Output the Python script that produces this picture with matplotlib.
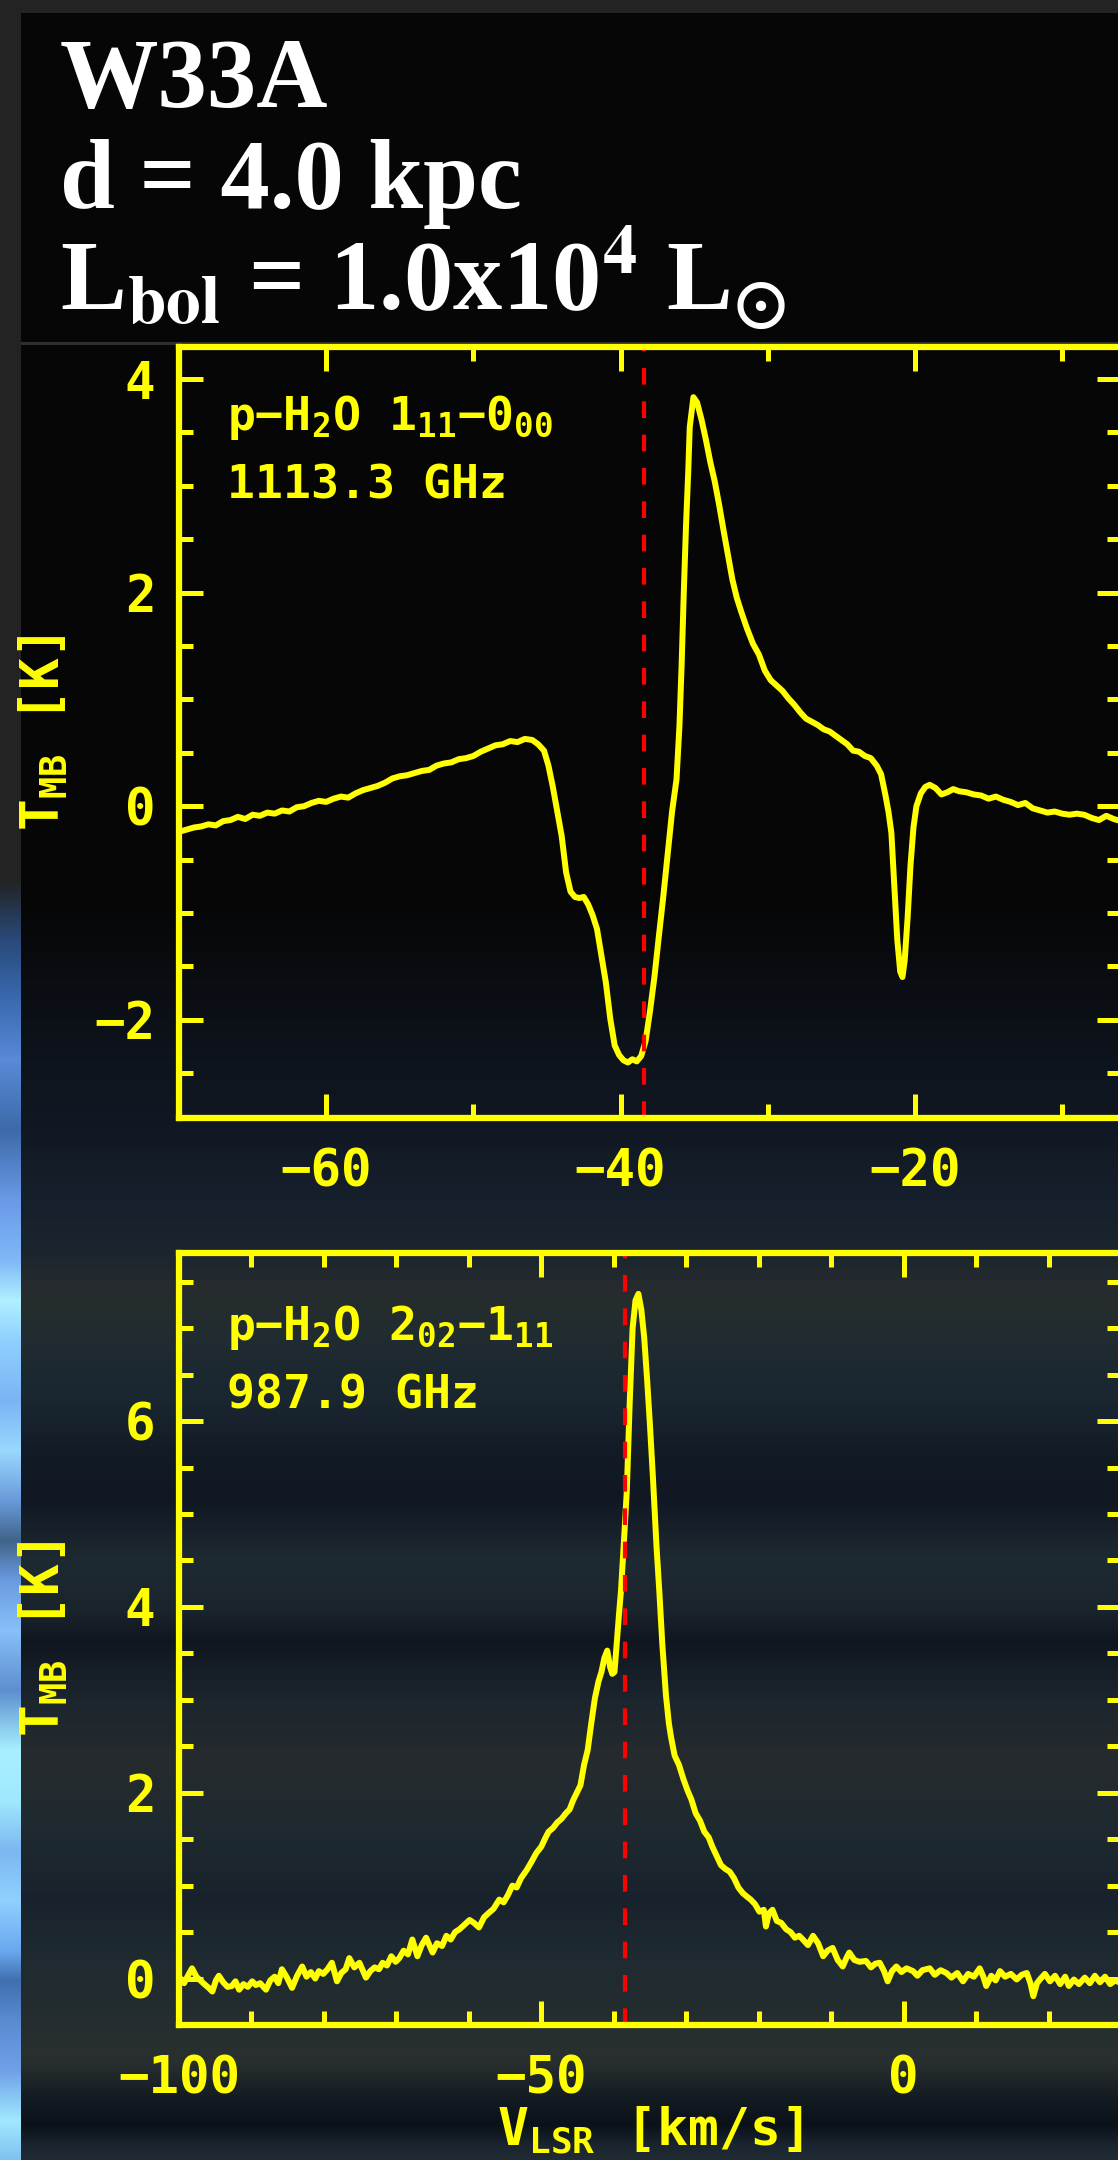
import numpy as np
import matplotlib
matplotlib.use("Agg")
import matplotlib.pyplot as plt
from matplotlib.ticker import MultipleLocator

# ---------------- data ----------------
source_name = "W33A"
distance_text = "d = 4.0 kpc"
lum_text = r"L$_{\mathbf{bol}}$ = 1.0x10$^{4}$ L$_{\odot}$"
vlsr_source = -38.4

top_line = "p\u2212H$_2$O 1$_{11}$\u22120$_{00}$"
top_freq = "1113.3 GHz"
bot_line = "p\u2212H$_2$O 2$_{02}$\u22121$_{11}$"
bot_freq = "987.9 GHz"

v_top = [-70.0, -69.5, -69.0, -68.5, -68.0, -67.5, -67.0, -66.5, -66.0, -65.5,
         -65.0, -64.5, -64.0, -63.5, -63.0, -62.5, -62.0, -61.5, -61.0, -60.5,
         -60.0, -59.5, -59.0, -58.5, -58.0, -57.5, -57.0, -56.5, -56.0, -55.5,
         -55.0, -54.5, -54.0, -53.5, -53.0, -52.5, -52.0, -51.5, -51.0, -50.5,
         -50.0, -49.5, -49.0, -48.5, -48.0, -47.5, -47.0, -46.5, -46.0, -45.6,
         -45.2, -44.9, -44.6, -44.3, -44.0, -43.7, -43.4, -43.1, -42.8, -42.5,
         -42.2, -41.9, -41.6, -41.3, -41.0, -40.7, -40.4, -40.1, -39.8, -39.5,
         -39.2, -38.9, -38.6, -38.3, -38.0, -37.7, -37.4, -37.1, -36.8, -36.5,
         -36.2, -36.0, -35.85, -35.7, -35.55, -35.4, -35.3, -35.05, -34.8, -34.5,
         -34.2, -33.9, -33.6, -33.3, -33.0, -32.7, -32.4, -32.1, -31.8, -31.4,
         -31.0, -30.6, -30.2, -29.8, -29.4, -29.0, -28.6, -28.2, -27.8, -27.4,
         -27.0, -26.6, -26.2, -25.8, -25.4, -25.0, -24.6, -24.2, -23.8, -23.4,
         -23.0, -22.6, -22.3, -22.0, -21.8, -21.6, -21.4, -21.2, -21.0, -20.85,
         -20.7, -20.5, -20.3, -20.1, -19.9, -19.6, -19.3, -19.0, -18.6, -18.2,
         -17.8, -17.4, -17.0, -16.5, -16.0, -15.5, -15.0, -14.5, -14.0, -13.5,
         -13.0, -12.5, -12.0, -11.5, -11.0, -10.5, -10.0, -9.5, -9.0, -8.5,
         -8.0, -7.5, -7.0, -6.5, -6.0]
t_top = [-0.24, -0.22, -0.20, -0.19, -0.17, -0.18, -0.14, -0.13, -0.10, -0.12,
         -0.08, -0.09, -0.06, -0.07, -0.04, -0.05, -0.01, 0.00, 0.03, 0.05,
         0.04, 0.07, 0.09, 0.08, 0.12, 0.15, 0.17, 0.19, 0.22, 0.26,
         0.28, 0.29, 0.31, 0.33, 0.34, 0.38, 0.40, 0.41, 0.44, 0.45,
         0.47, 0.51, 0.54, 0.57, 0.58, 0.61, 0.60, 0.63, 0.62, 0.58,
         0.52, 0.38, 0.18, -0.05, -0.28, -0.62, -0.80, -0.85, -0.86, -0.85,
         -0.92, -1.02, -1.15, -1.40, -1.65, -1.99, -2.24, -2.33, -2.38, -2.40,
         -2.37, -2.39, -2.34, -2.20, -1.92, -1.60, -1.22, -0.85, -0.45, -0.05,
         0.25, 0.75, 1.33, 2.02, 2.64, 3.14, 3.55, 3.83, 3.78, 3.62,
         3.43, 3.22, 3.04, 2.82, 2.58, 2.35, 2.12, 1.95, 1.82, 1.66,
         1.52, 1.42, 1.27, 1.18, 1.13, 1.08, 1.01, 0.95, 0.88, 0.82,
         0.79, 0.76, 0.72, 0.70, 0.66, 0.62, 0.58, 0.52, 0.51, 0.47,
         0.45, 0.38, 0.30, 0.10, -0.05, -0.25, -0.75, -1.25, -1.55, -1.60,
         -1.45, -1.05, -0.55, -0.20, 0.00, 0.12, 0.18, 0.20, 0.17, 0.11,
         0.13, 0.16, 0.14, 0.13, 0.11, 0.10, 0.07, 0.09, 0.06, 0.04,
         0.01, 0.03, -0.02, -0.04, -0.06, -0.05, -0.07, -0.08, -0.07, -0.08,
         -0.11, -0.13, -0.09, -0.12, -0.14]

v_bot = [-100.0, -99.3, -98.7, -98.2, -97.6, -97.2, -96.5, -95.9, -95.4, -94.9,
         -94.5, -93.9, -93.3, -92.7, -92.2, -91.7, -91.1, -90.5, -89.9, -89.4,
         -88.8, -88.0, -87.4, -86.8, -86.3, -85.8, -85.1, -84.4, -83.7, -83.0,
         -82.4, -81.8, -81.2, -80.7, -80.1, -79.5, -78.9, -78.2, -77.6, -77.0,
         -76.5, -75.8, -75.1, -74.6, -74.2, -73.6, -73.0, -72.4, -71.9, -71.3,
         -70.7, -70.1, -69.6, -69.0, -68.4, -67.8, -67.1, -66.5, -65.9, -65.0,
         -64.4, -63.7, -63.1, -62.5, -61.9, -61.3, -60.6, -59.9, -59.3, -58.6,
         -57.9, -57.2, -56.6, -55.8, -55.2, -54.6, -54.0, -53.4, -52.8, -52.0,
         -51.4, -50.7, -50.0, -49.4, -49.0, -48.4, -47.8, -47.2, -46.6, -46.1,
         -45.6, -45.1, -44.6, -44.1, -43.6, -43.1, -42.6, -42.1, -41.7, -41.3,
         -40.9, -40.5, -40.2, -39.9, -39.6, -39.3, -39.0, -38.6, -38.2, -37.8,
         -37.4, -37.0, -36.6, -36.2, -35.8, -35.4, -35.0, -34.6, -34.1, -33.7,
         -33.3, -32.8, -32.4, -32.1, -31.6, -31.0, -30.4, -29.8, -29.3, -28.7,
         -28.1, -27.5, -26.9, -26.4, -25.8, -25.2, -24.6, -24.0, -23.4, -22.8,
         -22.2, -21.6, -21.1, -20.5, -19.9, -19.3, -19.0, -18.6, -18.1, -17.5,
         -16.9, -16.2, -15.6, -15.0, -14.4, -13.9, -13.2, -12.5, -11.8, -11.1,
         -10.5, -9.8, -9.1, -8.4, -7.9, -7.5, -6.8, -6.1, -5.2, -4.5,
         -3.9, -3.3, -2.7, -2.2, -1.6, -1.0, -0.3, 0.4, 1.3, 1.9,
         2.6, 3.6, 4.3, 5.1, 5.9, 6.6, 7.4, 8.2, 8.9, 9.7,
         10.5, 11.0, 11.4, 12.1, 12.7, 13.3, 14.0, 14.8, 15.6, 16.3,
         17.0, 17.5, 17.9, 18.4, 18.8, 19.5, 20.2, 20.9, 21.6, 22.3,
         22.8, 23.5, 24.2, 25.0, 25.7, 26.4, 27.1, 27.8, 28.5, 29.2,
         30.0]
t_bot = [0.02, -0.05, 0.04, 0.11, 0.02, -0.01, -0.06, -0.10, -0.14, -0.02,
         0.03, -0.04, -0.09, -0.08, -0.03, -0.12, -0.06, -0.09, -0.03, -0.07,
         -0.05, -0.12, -0.02, 0.02, -0.05, 0.10, 0.01, -0.10, 0.03, 0.13,
         0.02, 0.07, 0.00, 0.08, 0.05, 0.10, 0.17, -0.03, 0.06, 0.10,
         0.22, 0.12, 0.17, 0.08, 0.01, 0.08, 0.12, 0.10, 0.17, 0.14,
         0.24, 0.18, 0.22, 0.30, 0.26, 0.42, 0.24, 0.36, 0.44, 0.28,
         0.38, 0.35, 0.46, 0.42, 0.50, 0.53, 0.58, 0.63, 0.60, 0.55,
         0.66, 0.71, 0.75, 0.85, 0.82, 0.90, 1.00, 0.98, 1.08, 1.17,
         1.25, 1.35, 1.42, 1.52, 1.58, 1.62, 1.68, 1.72, 1.78, 1.82,
         1.92, 2.00, 2.08, 2.30, 2.46, 2.75, 3.02, 3.20, 3.30, 3.45,
         3.53, 3.35, 3.28, 3.30, 3.60, 3.90, 4.18, 4.70, 5.25, 6.20,
         7.00, 7.30, 7.37, 7.20, 6.90, 6.45, 5.95, 5.40, 4.65, 4.15,
         3.60, 3.05, 2.75, 2.60, 2.40, 2.30, 2.15, 2.02, 1.93, 1.78,
         1.70, 1.58, 1.52, 1.42, 1.32, 1.22, 1.18, 1.15, 1.08, 0.98,
         0.92, 0.88, 0.85, 0.80, 0.72, 0.74, 0.56, 0.70, 0.74, 0.62,
         0.60, 0.53, 0.50, 0.44, 0.46, 0.42, 0.36, 0.46, 0.38, 0.24,
         0.30, 0.33, 0.20, 0.13, 0.22, 0.28, 0.20, 0.18, 0.19, 0.12,
         0.16, 0.17, 0.08, -0.03, 0.08, 0.13, 0.07, 0.11, 0.08, 0.03,
         0.09, 0.11, 0.04, 0.09, 0.06, 0.01, 0.06, -0.03, 0.05, 0.02,
         0.11, 0.02, -0.08, 0.03, -0.02, 0.08, 0.02, 0.05, -0.01, 0.04,
         0.06, -0.05, -0.19, -0.05, -0.01, 0.05, -0.03, 0.03, -0.06, 0.02,
         -0.08, -0.01, -0.06, 0.01, -0.05, 0.03, -0.04, 0.02, -0.06, -0.02,
         -0.05]

top_xlim = (-70, -6.0)
top_ylim = (-2.92, 4.30)
bot_xlim = (-100, 30)
bot_ylim = (-0.50, 7.81)

# ---------------- style ----------------
W, H, DPI = 1118, 2160, 100
YEL = "#ffff00"
MONO = "DejaVu Sans Mono"

plt.rcParams["font.family"] = [MONO, "DejaVu Sans"]
plt.rcParams["font.weight"] = "bold"
plt.rcParams["axes.labelweight"] = "bold"
plt.rcParams["mathtext.fontset"] = "custom"
plt.rcParams["mathtext.rm"] = "DejaVu Sans Mono:bold"
plt.rcParams["mathtext.it"] = "DejaVu Sans Mono:bold"
plt.rcParams["mathtext.bf"] = "DejaVu Sans Mono:bold"
plt.rcParams["lines.scale_dashes"] = False
plt.rcParams["axes.unicode_minus"] = True

fig = plt.figure(figsize=(W / DPI, H / DPI), dpi=DPI, facecolor="#060606")


def hex2rgb(h):
    h = h.lstrip("#")
    return [int(h[i:i + 2], 16) / 255.0 for i in (0, 2, 4)]


# background (decorative vertical gradient, not data)
bg_y = [0, 12, 13, 900, 980, 1060, 1130, 1200, 1250, 1290, 1340, 1400, 1460, 1500,
        1560, 1610, 1640, 1700, 1760, 1830, 1900, 1960, 2000, 2060, 2100, 2125, 2145, 2160]
bg_c = ["#232323", "#232323", "#060606", "#060606", "#0a0d12", "#0e141d", "#111823",
        "#16202c", "#1b252e", "#272c2e", "#202c30", "#1a2630", "#121a24", "#111824",
        "#1e2a32", "#1a242d", "#10161f", "#1c262e", "#262b2d", "#1e2a30", "#18222c",
        "#1f2b31", "#222c30", "#2a302f", "#121a22", "#0b1119", "#1a2530", "#222c34"]
strip_y = [0, 880, 940, 1000, 1060, 1130, 1200, 1260, 1300, 1340, 1400, 1450, 1500, 1540,
           1580, 1630, 1690, 1750, 1800, 1850, 1900, 1950, 1980, 2020, 2070, 2120, 2160]
strip_c = ["#232323", "#232323", "#2a4a7a", "#3a6ab0", "#5a8ad8", "#3d6aa8", "#6a9ae8",
           "#80b8f8", "#b0f0ff", "#90d0ff", "#7ab4f4", "#9ad8ff", "#6a9ad8", "#40658a",
           "#6a9ae0", "#88c0f8", "#5e8ed0", "#a8f0ff", "#a0e8ff", "#7cb8f0", "#90d0ff",
           "#6aa8f0", "#4070b0", "#5a8ad0", "#70a0e8", "#a0e8ff", "#80c0f0"]
rows = np.arange(H)
bgc = np.array([hex2rgb(c) for c in bg_c])
stc = np.array([hex2rgb(c) for c in strip_c])
col = np.stack([np.interp(rows, bg_y, bgc[:, i]) for i in range(3)], axis=1)
scol = np.stack([np.interp(rows, strip_y, stc[:, i]) for i in range(3)], axis=1)
img = np.repeat(col[:, None, :], W, axis=1)
img[:, :21, :] = scol[:, None, :]
img[:12, :, :] = hex2rgb("#232323")
img[342:345, 21:, :] = hex2rgb("#2e2e2e")

bgax = fig.add_axes([0, 0, 1, 1], zorder=-10)
bgax.imshow(img, aspect="auto", interpolation="nearest", extent=(0, W, H, 0))
bgax.set_axis_off()

# header text
hdr = dict(color="white", fontsize=71, family="Liberation Serif", weight="bold",
           va="baseline", ha="left")
fig.text(60 / W, 1 - 107 / H, source_name, **hdr)
fig.text(60 / W, 1 - 208 / H, distance_text, **hdr)
fig.text(60 / W, 1 - 310 / H, lum_text, math_fontfamily="stix", **hdr)


def style(ax, xlim, ylim, xmaj, xmin, ymaj, ymin):
    ax.set_facecolor("none")
    ax.set_xlim(*xlim)
    ax.set_ylim(*ylim)
    for s in ax.spines.values():
        s.set_color(YEL)
        s.set_linewidth(4.5)
    ax.xaxis.set_major_locator(MultipleLocator(xmaj))
    ax.xaxis.set_minor_locator(MultipleLocator(xmin))
    ax.yaxis.set_major_locator(MultipleLocator(ymaj))
    ax.yaxis.set_minor_locator(MultipleLocator(ymin))
    ax.tick_params(which="both", direction="in", top=True, right=True,
                   color=YEL, labelcolor=YEL, width=3.6, labelsize=36.5)
    ax.tick_params(which="major", length=17)
    ax.tick_params(which="minor", length=10)
    ax.tick_params(axis="x", which="major", pad=21)
    ax.tick_params(axis="y", which="major", pad=17)
    ax.set_ylabel("T$_{MB}$ [K]", fontsize=38, color=YEL)
    ax.yaxis.set_label_coords(-0.1157, 0.5)


ax1 = fig.add_axes([179 / W, 1 - 1118 / H, 942 / W, 771 / H])
style(ax1, top_xlim, top_ylim, 20, 10, 2, 0.5)
ax1.plot(v_top, t_top, color=YEL, lw=4.3, solid_joinstyle="round", solid_capstyle="round")
ax1.axvline(vlsr_source, color="#ff0000", lw=3.0, dashes=(12, 12))
ax1.text(0.051, 0.892, top_line, transform=ax1.transAxes, fontsize=33.5, color=YEL,
         va="baseline", ha="left")
ax1.text(0.051, 0.803, top_freq, transform=ax1.transAxes, fontsize=33.5, color=YEL,
         va="baseline", ha="left")

ax2 = fig.add_axes([179 / W, 1 - 2025 / H, 942 / W, 772 / H])
style(ax2, bot_xlim, bot_ylim, 50, 10, 2, 0.5)
ax2.plot(v_bot, t_bot, color=YEL, lw=4.3, solid_joinstyle="round", solid_capstyle="round")
ax2.axvline(vlsr_source, color="#ff0000", lw=3.0, dashes=(12, 12))
ax2.text(0.051, 0.887, bot_line, transform=ax2.transAxes, fontsize=33.5, color=YEL,
         va="baseline", ha="left")
ax2.text(0.051, 0.799, bot_freq, transform=ax2.transAxes, fontsize=33.5, color=YEL,
         va="baseline", ha="left")
ax2.set_xlabel("V$_{LSR}$ [km/s]", fontsize=37, color=YEL)
ax2.xaxis.set_label_coords(0.5, -0.103)

fig.savefig("out.png", dpi=DPI, facecolor=fig.get_facecolor())
